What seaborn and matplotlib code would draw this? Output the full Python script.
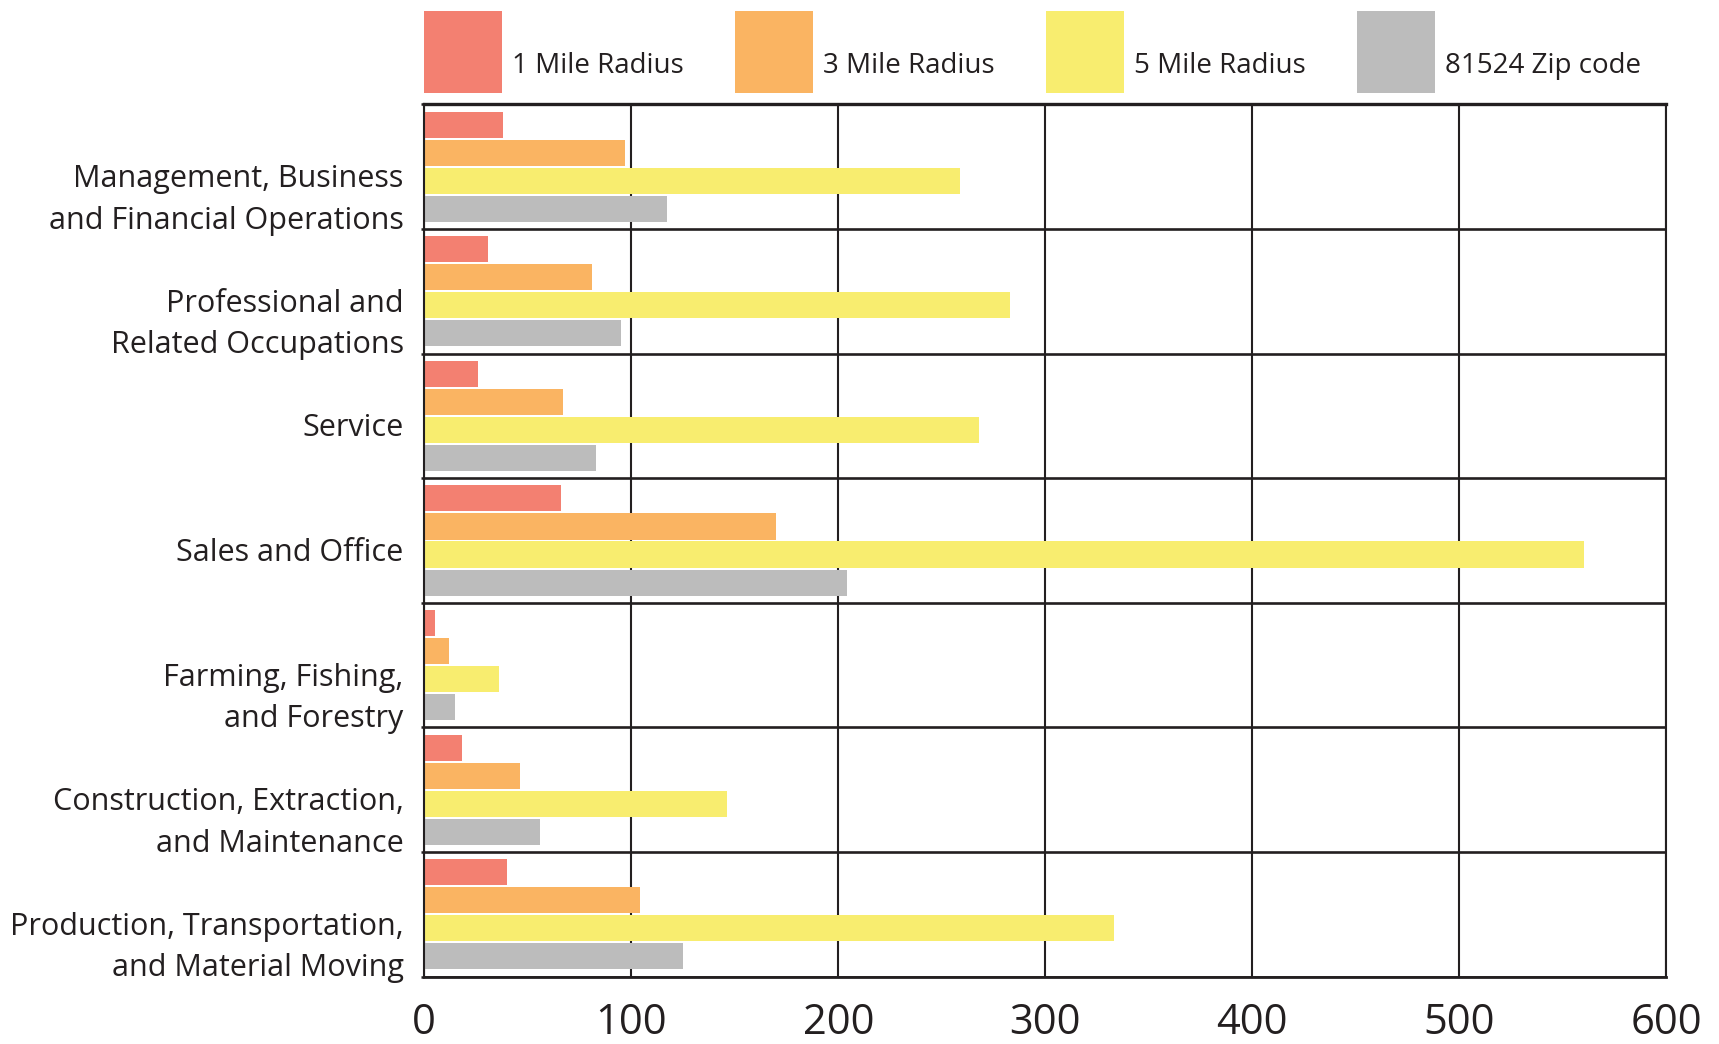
import matplotlib
matplotlib.use("Agg")
import matplotlib.pyplot as plt
import matplotlib.transforms as mtransforms
from matplotlib.patches import Patch, Rectangle
from matplotlib.legend_handler import HandlerPatch
import numpy as np
import pandas as pd
import seaborn as sns

# Occupation categories (top to bottom)
categories = [
    "Management, Business\nand Financial Operations",
    "Professional and\nRelated Occupations",
    "Service",
    "Sales and Office",
    "Farming, Fishing,\nand Forestry",
    "Construction, Extraction,\nand Maintenance",
    "Production, Transportation,\nand Material Moving",
]
series_names = ["1 Mile Radius", "3 Mile Radius", "5 Mile Radius", "81524 Zip code"]

one_mile = [38, 31, 26, 66, 5, 18, 40]
three_mile = [97, 81, 67, 170, 12, 46, 104]
five_mile = [259, 283, 268, 560, 36, 146, 333]
zip_code = [117, 95, 83, 204, 15, 56, 125]

x_ticks = [0, 100, 200, 300, 400, 500, 600]
colors = ["#F38071", "#FAB462", "#F8ED6F", "#BCBCBC"]
ink = "#231F20"

# Long-form table for seaborn
frames = []
for name, vals in zip(series_names, [one_mile, three_mile, five_mile, zip_code]):
    frames.append(pd.DataFrame({"category": categories, "series": name, "value": vals}))
df = pd.concat(frames, ignore_index=True)

sns.set_theme(style="white")
plt.rcParams["font.family"] = ["Open Sans", "DejaVu Sans"]
plt.rcParams["text.color"] = ink
plt.rcParams["xtick.color"] = ink
plt.rcParams["ytick.color"] = ink

W, H = 1719, 1044
fig = plt.figure(figsize=(W / 100, H / 100), dpi=100)
ax_left, ax_right, ax_top, ax_bottom = 424.3, 1666.4, 104.3, 976.7
ax = fig.add_axes([ax_left / W, 1 - ax_bottom / H,
                   (ax_right - ax_left) / W, (ax_bottom - ax_top) / H])

sns.barplot(data=df, x="value", y="category", hue="series",
            order=categories, hue_order=series_names, palette=colors,
            orient="h", width=0.9, gap=0.07, saturation=1,
            linewidth=0, edgecolor="none", legend=False, ax=ax)

ax.set_xlim(0, 600)
ax.set_ylim(6.5, -0.5)
ax.set_xlabel("")
ax.set_ylabel("")
ax.set_axisbelow(True)

# Grid: vertical lines at each hundred, horizontal lines between categories
ax.set_xticks(x_ticks)
ax.set_xticklabels([str(t) for t in x_ticks])
ax.set_yticks(np.arange(-0.5, 7, 1), minor=True)
ax.grid(axis="x", which="major", color=ink, linewidth=1.5)
ax.grid(axis="y", which="major", visible=False)
ax.grid(axis="y", which="minor", color=ink, linewidth=1.9)

ax.tick_params(axis="x", which="major", length=0, pad=18, labelsize=30)
ax.tick_params(axis="y", which="major", length=0, pad=14.8, labelsize=22)
ax.tick_params(axis="y", which="minor", left=True, length=2.5, width=1.8, color=ink)

for side, lw in [("top", 2.4), ("bottom", 2.0), ("left", 1.5), ("right", 1.5)]:
    ax.spines[side].set_visible(True)
    ax.spines[side].set_color(ink)
    ax.spines[side].set_linewidth(lw)

# Push category labels down so the first line sits near the row centre
for lab in ax.get_yticklabels():
    n_lines = lab.get_text().count("\n") + 1
    dy = -24 if n_lines == 2 else -9
    lab.set_linespacing(1.5)
    lab.set_transform(lab.get_transform()
                      + mtransforms.ScaledTranslation(0, dy / 100, fig.dpi_scale_trans))

# Legend across the top: tall swatches with the label sitting near their base
SWATCH_H = 58.8  # points


def tall_swatch(legend, orig_handle, xdescent, ydescent, width, height, fontsize):
    return Rectangle((-xdescent, -ydescent), width, SWATCH_H)


handles = [Patch(facecolor=c, edgecolor="none") for c in colors]
leg_fs = 20
fig.legend(handles, series_names, loc="upper left",
           bbox_to_anchor=(ax_left / W, 1 - 36 / H), bbox_transform=fig.transFigure,
           ncol=4, frameon=False, fontsize=leg_fs,
           handler_map={Patch: HandlerPatch(patch_func=tall_swatch)},
           handlelength=2.81, handleheight=2.757, handletextpad=0.36,
           columnspacing=1.84, borderpad=0, borderaxespad=0)

fig.savefig("out.png", dpi=100)
